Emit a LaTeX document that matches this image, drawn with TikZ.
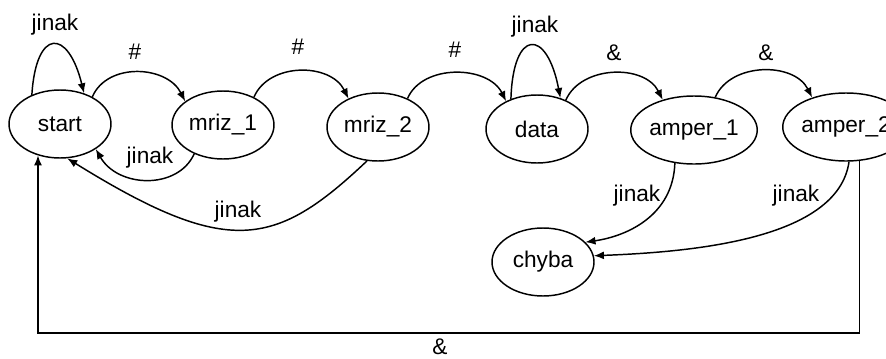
\documentclass[tikz,border=0pt]{standalone}
\usepackage{fontspec}
\setmainfont{Liberation Sans}
\usetikzlibrary{shapes.geometric,arrows.meta}
\begin{document}
\begin{tikzpicture}[x=0.75pt,y=-0.75pt,
  font=\fontsize{17}{20}\selectfont,
  state/.style={draw,ellipse,line width=1.1pt,inner sep=0pt,minimum width=76.5pt,minimum height=51pt},
  edge/.style={line width=1.1pt,-{Latex[length=7.5pt,width=6pt]}},
  lbl/.style={inner sep=0pt}]
\useasboundingbox (0,0) rectangle (886,358);
\node[state] (start) at (60,124) {start};
\node[state] (mriz1) at (223,125) {mriz\_1};
\node[state] (mriz2) at (378,127) {mriz\_2};
\node[state] (data) at (537,129) {data};
\node[state] (amper1) at (694,130) {amper\_1};
\node[state] (amper2) at (846,127) {amper\_2};
\node[state] (chyba) at (543,262) {chyba};
% self loops
\draw[edge] (start.134) .. controls (36,28) and (68,28) .. (start.52);
\node[lbl] (l1) at (55,25) {jinak};
\draw[edge] (data.131) .. controls (513,28) and (547,28) .. (data.53);
\node[lbl] (l2) at (535,27) {jinak};
% forward arcs
\draw[edge] (start.40) .. controls +(15,-35) and +(-18,-36) .. (mriz1.148);
\node[lbl] (l3) at (135,52) {\#};
\draw[edge] (mriz1.42) .. controls +(15,-35) and +(-18,-36) .. (mriz2.136);
\node[lbl] (l4) at (298,47) {\#};
\draw[edge] (mriz2.44) .. controls +(15,-35) and +(-18,-36) .. (data.138);
\node[lbl] (l5) at (455,50) {\#};
\draw[edge] (data.45) .. controls +(15,-35) and +(-18,-36) .. (amper1.136);
\node[lbl] (l6) at (614,53) {\&};
\draw[edge] (amper1.57) .. controls +(15,-35) and +(-18,-36) .. (amper2.139);
\node[lbl] (l7) at (766,53) {\&};
% back arcs
\draw[edge] (mriz1.225) .. controls (178,190) and (118,188) .. (start.-35);
\node[lbl] (l8) at (150,158) {jinak};
\draw[edge] (mriz2.252) .. controls (275,248) and (228,258) .. (start.282);
\node[lbl] (l9) at (238,212) {jinak};
% to chyba
\draw[edge] (amper1.240) .. controls (673,215) and (628,236) .. (chyba.25);
\node[lbl] (l10) at (637,196) {jinak};
\draw[edge] (amper2.275) .. controls (838,240) and (690,252) .. (chyba.7);
\node[lbl] (l11) at (796,196) {jinak};
% bottom return
\coordinate (br) at (amper2.292 |- 0,333);
\coordinate (bl) at (start.235 |- 0,333);
\draw[edge] (amper2.292) -- (br) -- (bl) -- (start.235);
\node[lbl] (l12) at (440,347) {\&};
\end{tikzpicture}
\end{document}
